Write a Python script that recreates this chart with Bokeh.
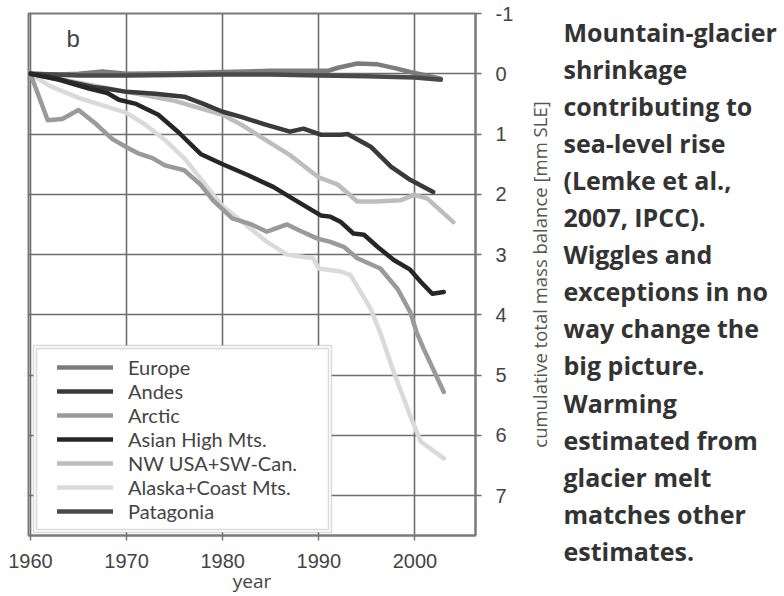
import math
from bokeh.plotting import figure
from bokeh.layouts import row
from bokeh.core.properties import value
from bokeh.models import Range1d, Legend, LegendItem, Label, FixedTicker, BoxAnnotation
from bokeh.embed import file_html
from bokeh.resources import INLINE

# ---- data ----
x_ticks = [1960, 1970, 1980, 1990, 2000]
y_ticks = [-1, 0, 1, 2, 3, 4, 5, 6, 7]

series_names = ["Europe", "Andes", "Arctic", "Asian High Mts.",
                "NW USA+SW-Can.", "Alaska+Coast Mts.", "Patagonia"]

europe_years = [1960, 1963, 1965, 1967.5, 1970, 1975, 1980, 1985, 1989, 1991, 1992, 1994, 1996, 1998, 1999.5, 2002.7]
europe_vals = [0, 0.01, 0, -0.04, 0, -0.01, -0.03, -0.05, -0.05, -0.05, -0.1, -0.17, -0.16, -0.09, -0.03, 0.08]

andes_years = [1960, 1962, 1964, 1966.5, 1968, 1970, 1973, 1976, 1978, 1980, 1982, 1984.2, 1987, 1988.4, 1990.2, 1992.3, 1993, 1995.4, 1997.5, 1999.5, 2001.9]
andes_vals = [0, 0.05, 0.13, 0.22, 0.25, 0.3, 0.33, 0.38, 0.5, 0.63, 0.72, 0.83, 0.96, 0.91, 1.01, 1.01, 1.0, 1.21, 1.54, 1.76, 1.96]

arctic_years = [1960, 1961.8, 1963.3, 1965, 1966.8, 1968.5, 1970, 1971.2, 1972.7, 1974, 1976, 1977.7, 1979, 1981, 1983, 1984.6, 1986.7, 1988, 1989.8, 1991.2, 1992.6, 1994, 1996.4, 1998.2, 1999.5, 2000.2, 2000.9, 2003]
arctic_vals = [0, 0.77, 0.75, 0.6, 0.83, 1.08, 1.22, 1.32, 1.4, 1.52, 1.6, 1.84, 2.1, 2.4, 2.5, 2.62, 2.5, 2.6, 2.73, 2.79, 2.87, 3.06, 3.23, 3.57, 3.95, 4.3, 4.56, 5.28]

asian_years = [1960, 1963, 1966, 1968, 1969.2, 1971, 1973.3, 1975.4, 1977.7, 1980, 1982.6, 1985.3, 1987.8, 1990.2, 1991.2, 1992.3, 1993.6, 1994.7, 1996.1, 1997.8, 1999.5, 2000.6, 2001.8, 2003]
asian_vals = [0, 0.1, 0.24, 0.32, 0.43, 0.5, 0.68, 0.97, 1.33, 1.5, 1.68, 1.88, 2.12, 2.35, 2.37, 2.46, 2.65, 2.67, 2.87, 3.09, 3.25, 3.45, 3.65, 3.62]

nw_years = [1960, 1965, 1970, 1975, 1980, 1982, 1984, 1987, 1990, 1992, 1994, 1996, 1998.5, 1999.9, 2001.3, 2004]
nw_vals = [0, 0.15, 0.3, 0.45, 0.68, 0.85, 1.05, 1.35, 1.72, 1.84, 2.12, 2.12, 2.1, 2.01, 2.07, 2.46]

alaska_years = [1960, 1962, 1965, 1968, 1970, 1972, 1974, 1976, 1978, 1980, 1982, 1984.6, 1986.7, 1989.4, 1990, 1992.3, 1993.3, 1995.4, 1996.4, 1997.8, 1999.5, 2000.6, 2003]
alaska_vals = [0, 0.2, 0.4, 0.55, 0.65, 0.85, 1.1, 1.4, 1.8, 2.2, 2.45, 2.79, 3.0, 3.06, 3.23, 3.28, 3.34, 3.9, 4.3, 4.95, 5.67, 6.1, 6.38]

patagonia_years = [1960, 1965, 1970, 1975, 1980, 1985, 1990, 1995, 2000, 2002.7]
patagonia_vals = [0, 0.03, 0.03, 0.02, 0.01, 0.01, 0.03, 0.04, 0.06, 0.1]

y_axis_title = "cumulative total mass balance [mm SLE]"
note_lines = ["Mountain-glacier", "shrinkage", "contributing to", "sea-level rise",
              "(Lemke et al.,", "2007, IPCC).", "Wiggles and", "exceptions in no",
              "way change the", "big picture.", "Warming", "estimated from",
              "glacier melt", "matches other", "estimates."]

# ---- styles / layout ----
colors = {"Europe": "#7c7c7c", "Andes": "#3a3a3a", "Arctic": "#9a9a9a",
          "Asian High Mts.": "#262626", "NW USA+SW-Can.": "#bdbdbd",
          "Alaska+Coast Mts.": "#dadada", "Patagonia": "#4a4a4a"}
data = {"Europe": (europe_years, europe_vals), "Andes": (andes_years, andes_vals),
        "Arctic": (arctic_years, arctic_vals), "Asian High Mts.": (asian_years, asian_vals),
        "NW USA+SW-Can.": (nw_years, nw_vals), "Alaska+Coast Mts.": (alaska_years, alaska_vals),
        "Patagonia": (patagonia_years, patagonia_vals)}

FL, FR, FT, FB = 28, 475, 13, 535          # frame edges in page pixels
X0, X1 = 1959.8, 2006.3
YT, YB = -1.0, 7.66


def xd(px):
    return X0 + (px - FL) * (X1 - X0) / (FR - FL)


def yd(py):
    return YT + (py - FT) * (YB - YT) / (FB - FT)


P_W, H = 528, 596
p = figure(width=P_W, height=H, output_backend="svg", toolbar_location=None,
           x_range=Range1d(X0, X1), y_range=Range1d(YB, YT),
           y_axis_location="right",
           min_border_left=FL, min_border_top=FT, min_border_bottom=H - FB,
           min_border_right=P_W - FR)
p.frame_align = False

p.outline_line_color = "#7a7a7a"
p.outline_line_width = 2
p.background_fill_color = "white"
p.border_fill_color = "white"

for g in (p.xgrid, p.ygrid):
    g.grid_line_color = "#6e6e6e"
    g.grid_line_width = 1.6
p.xgrid.ticker = FixedTicker(ticks=x_ticks)
p.ygrid.ticker = FixedTicker(ticks=y_ticks)

xa = p.xaxis[0]
xa.ticker = FixedTicker(ticks=x_ticks)
xa.axis_label = "year"
xa.axis_line_color = "#7a7a7a"
xa.axis_line_width = 2
xa.major_tick_line_color = "#7a7a7a"
xa.major_tick_line_width = 1.5
xa.major_tick_out = 5
xa.major_tick_in = 0
xa.minor_tick_line_color = None
xa.major_label_text_font = "Liberation Sans"
xa.major_label_text_font_size = "20px"
xa.major_label_text_color = "#444444"
xa.major_label_standoff = 13
xa.axis_label_text_font = "Open Sans"
xa.axis_label_text_font_style = "normal"
xa.axis_label_text_font_size = "19px"
xa.axis_label_text_color = "#444444"
xa.axis_label_standoff = -3

ya = p.yaxis[0]
ya.ticker = FixedTicker(ticks=y_ticks)
ya.major_label_overrides = {t: str(t) for t in y_ticks}
ya.axis_line_color = "#7a7a7a"
ya.axis_line_width = 2
ya.major_tick_line_color = "#6e6e6e"
ya.major_tick_line_width = 1.6
ya.major_tick_out = 6
ya.major_tick_in = 0
ya.minor_tick_line_color = None
ya.major_label_text_font = "Liberation Sans"
ya.major_label_text_font_size = "20px"
ya.major_label_text_color = "#444444"
ya.major_label_standoff = 14

renderers = {}
for name in ["Alaska+Coast Mts.", "NW USA+SW-Can.", "Arctic", "Europe", "Patagonia", "Andes", "Asian High Mts."]:
    xs, ys = data[name]
    renderers[name] = p.line(xs, ys, line_color=colors[name], line_width=4.5,
                             line_join="round", line_cap="round")

# legend box with a double border
p.add_layout(BoxAnnotation(left=xd(33), right=xd(331), top=yd(345), bottom=yd(532),
                           fill_color="white", fill_alpha=1.0,
                           line_color="#858585", line_width=1.5))
p.add_layout(BoxAnnotation(left=xd(36), right=xd(328), top=yd(348), bottom=yd(529),
                           fill_alpha=0.0, line_color="#858585", line_width=1.5))

legend = Legend(items=[LegendItem(label=n, renderers=[renderers[n]]) for n in series_names],
                location=(29, 12), orientation="vertical",
                label_text_font="Lato", label_text_font_size="20px",
                label_text_color="#444444", label_standoff=15,
                glyph_width=56, glyph_height=24, label_height=24, spacing=0,
                padding=10, margin=0,
                border_line_color=None, background_fill_alpha=0.0)
p.add_layout(legend, "center")

p.add_layout(Label(x=xd(66), y=yd(38), text="b", text_font="Liberation Sans",
                   text_font_size="24px", text_color="#444444",
                   text_baseline="middle", text_align="left"))

# ---- side panel: rotated axis title + note text ----
N_W = 784 - P_W
q = figure(width=N_W, height=H, output_backend="svg", toolbar_location=None,
           x_range=Range1d(0, N_W), y_range=Range1d(H, 0),
           x_axis_location=None, y_axis_location=None, min_border=0)
q.frame_align = False
q.outline_line_color = None
q.xgrid.visible = False
q.ygrid.visible = False

q.text(x=[539 - P_W], y=[(FT + FB) / 2], text=[y_axis_title], angle=math.pi / 2,
       text_font=value("Open Sans"), text_font_size=value("18.5px"),
       text_color="#555555", text_align="center", text_baseline="middle")

first_y, step_y = 31, 37.1
q.text(x=[563 - P_W] * len(note_lines),
       y=[first_y + i * step_y for i in range(len(note_lines))],
       text=note_lines, text_font=value("Open Sans"), text_font_style=value("bold"),
       text_font_size=value("25px"), text_color="#333333",
       text_baseline="middle", text_align="left")

layout = row(p, q, spacing=0)
open("out.html", "w").write(file_html(layout, INLINE))
